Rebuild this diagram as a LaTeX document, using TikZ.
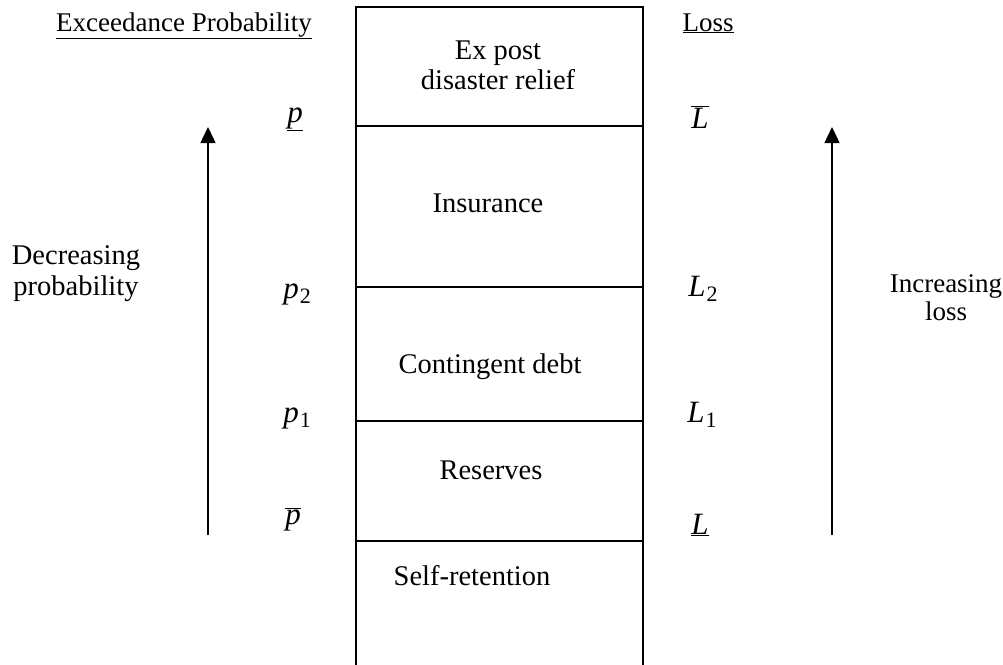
\documentclass[tikz,border=0pt]{standalone}
\usepackage{fontspec}
\setmainfont{Liberation Serif}
\usetikzlibrary{arrows.meta}
\begin{document}
\begin{tikzpicture}[x=1pt,y=-1pt,
  txt/.style={inner sep=0pt, anchor=base, font=\fontsize{27}{30}\selectfont},
  mid/.style={inner sep=0pt, anchor=base, font=\fontsize{28.5}{30}\selectfont},
  sym/.style={inner sep=0pt, anchor=base, font=\fontsize{31}{32}\selectfont},
  boxline/.style={line width=1.6pt},
  uparrow/.style={line width=1.4pt, -{Triangle[width=15pt,length=16pt]}}]
\newcommand{\subnum}[1]{\kern1pt\raisebox{-0.4ex}{\fontsize{22}{22}\selectfont #1}}
\useasboundingbox (0,0) rectangle (1003,664);
\clip (0,0) rectangle (1003,664);
% column box
\coordinate (tl) at (356,7);
\coordinate (tr) at (643,7);
\coordinate (bl) at (356,670);
\coordinate (br) at (643,670);
\draw[boxline] (bl) -- (tl) -- (tr) -- (br);
\coordinate (a1) at (356,126); \coordinate (b1) at (643,126);
\coordinate (a2) at (356,287); \coordinate (b2) at (643,287);
\coordinate (a3) at (356,421); \coordinate (b3) at (643,421);
\coordinate (a4) at (356,541); \coordinate (b4) at (643,541);
\draw[boxline] (a1) -- (b1);
\draw[line width=2.2pt] (a2) -- (b2);
\draw[boxline] (a3) -- (b3);
\draw[boxline] (a4) -- (b4);
% headers
\node[txt] (hep) at (184,31) {\underline{Exceedance Probability}};
\node[txt] (hloss) at (708,31) {\underline{Loss}};
% layer labels
\node[mid] (exp) at (498,59) {Ex post};
\node[mid] (dr) at (498,89) {disaster relief};
\node[mid] (ins) at (488,212) {Insurance};
\node[mid] (cd) at (490,373) {Contingent debt};
\node[mid] (res) at (491,479) {Reserves};
\node[mid] (sr) at (472,585) {Self-retention};
% side labels
\node[mid] (dec1) at (76,264) {Decreasing};
\node[mid] (dec2) at (76,295) {probability};
\node[txt] (inc1) at (946,292) {Increasing};
\node[txt] (inc2) at (946,320) {loss};
% probability and loss symbols
\node[sym] (pu) at (295,122) {$\underline{\mbox{\textit{p}}}$};
\node[sym] (Lb) at (700,128) {$\overline{\mbox{\textit{L}}}$};
\node[sym] (p2) at (297,298) {\textit{p}\subnum{2}};
\node[sym] (L2) at (703,296) {\textit{L}\subnum{2}};
\node[sym] (p1) at (297,422) {\textit{p}\subnum{1}};
\node[sym] (L1) at (702,422) {\textit{L}\subnum{1}};
\node[sym] (pb) at (293,524) {$\overline{\mbox{\textit{p}}}$};
\node[sym] (Lu) at (700,534) {$\underline{\mbox{\textit{L}}}$};
% arrows
\coordinate (lbot) at (208,535);
\coordinate (ltop) at (208,127);
\coordinate (rbot) at (832,535);
\coordinate (rtop) at (832,127);
\draw[uparrow] (lbot) -- (ltop);
\draw[uparrow] (rbot) -- (rtop);
\end{tikzpicture}
\end{document}
